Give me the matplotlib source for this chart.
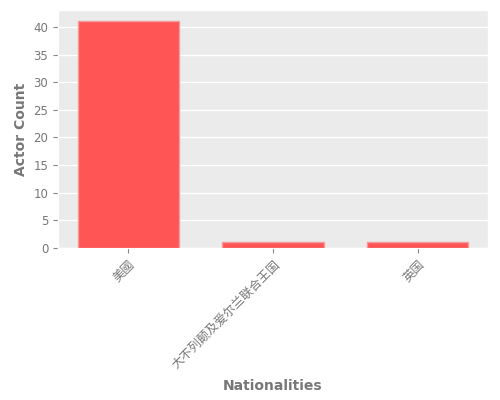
import matplotlib
matplotlib.use("Agg")
import matplotlib.pyplot as plt

plt.style.use("ggplot")
plt.rcParams['font.family'] = ['Noto Sans CJK SC', 'DejaVu Sans']

categories = ["美國", "大不列颠及爱尔兰联合王国", "英国"]
counts = [41, 1, 1]

fig, ax = plt.subplots(figsize=(5, 4), dpi=100)
ax.set_facecolor("#EBEBEB")
ax.bar(categories, counts, width=0.7, color="#FF5555", edgecolor="#F59A9A", linewidth=1, zorder=3)
ax.grid(axis="x", visible=False)
ax.grid(axis="y", color="white", linewidth=1)
ax.set_axisbelow(True)
ax.set_xlabel("Nationalities", color="#777777", fontsize=10, fontweight="bold", family=['DejaVu Sans'], labelpad=6)
ax.set_ylabel("Actor Count", color="#777777", fontsize=10, fontweight="bold", family=['DejaVu Sans'])
ax.set_yticks([0, 5, 10, 15, 20, 25, 30, 35, 40])
for lab in ax.get_yticklabels():
    lab.set_family(['DejaVu Sans'])
    lab.set_fontsize(8.5)
plt.setp(ax.get_xticklabels(), rotation=45, ha="right", rotation_mode="anchor", fontsize=8.8)
ax.tick_params(colors="#888888", labelcolor="#777777")
fig.subplots_adjust(left=0.116, right=0.976, top=0.975, bottom=0.38)
fig.savefig("out.png", dpi=100)
